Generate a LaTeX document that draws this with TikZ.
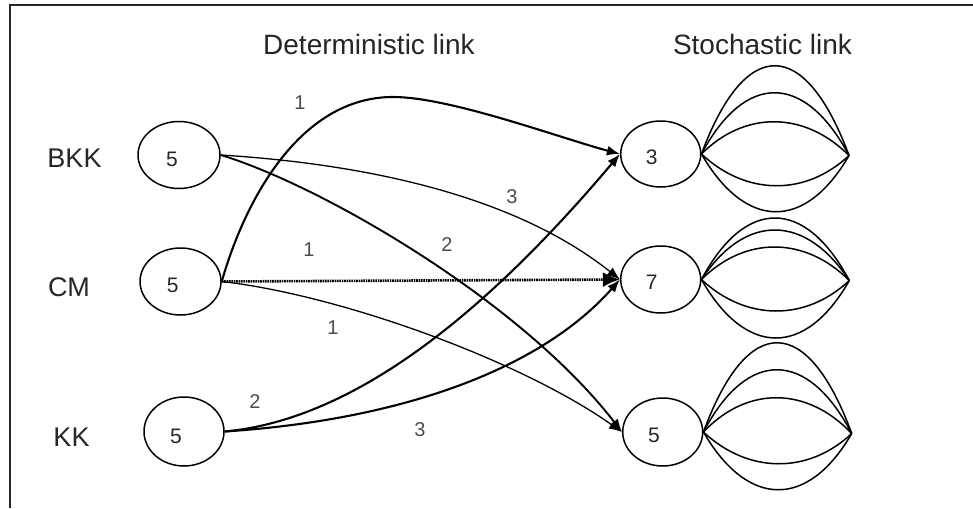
\documentclass[tikz,border=0pt]{standalone}
\usepackage{fontspec}
\setmainfont{Liberation Sans}
\usetikzlibrary{arrows.meta,shapes.geometric}
\begin{document}
\begin{tikzpicture}[x=1pt,y=-1pt,
  oval/.style={draw, ellipse, line width=1.5pt, inner sep=0pt, minimum width=81pt, minimum height=67pt},
  num/.style={font=\fontsize{21}{21}\selectfont, text=black!85, inner sep=0pt},
  rowlab/.style={font=\fontsize{27}{27}\selectfont, text=black!85, inner sep=0pt},
  head/.style={font=\fontsize{28}{28}\selectfont, text=black!85, inner sep=0pt},
  elab/.style={font=\fontsize{20}{20}\selectfont, text=black!70, inner sep=0pt},
  boldlink/.style={line width=2.1pt, -{Latex[length=13pt,width=10pt]}},
  thinlink/.style={line width=1.3pt, -{Latex[length=13pt,width=10pt]}},
  dotlink/.style={line width=2.6pt, dash pattern=on 1.6pt off 0.8pt, -{Latex[length=17pt,width=15pt]}},
  lens/.style={line width=1.5pt},
  frameline/.style={line width=2pt, black!85}
]
\useasboundingbox (0,0) rectangle (973,508);
\fill[white] (0,0) rectangle (973,508);

% frame
\draw[frameline] (9.7,508) -- (9.7,5.3) -- (973,5.3);

% headers
\node[head] (hdet) at (369,44) {Deterministic link};
\node[head] (hsto) at (762.5,44) {Stochastic link};

% row labels
\node[rowlab] (lbkk) at (74.5,158) {BKK};
\node[rowlab] (lcm) at (69,287) {CM};
\node[rowlab] (lkk) at (71.5,437) {KK};

% origin nodes
\node[oval, minimum width=82pt] (bkk) at (179,155) {};
\node[oval] (cm) at (180.5,281.5) {};
\node[oval, minimum width=80pt, minimum height=69pt] (kk) at (184,431.5) {};
\node[num] (nbkk) at (172,159) {5};
\node[num] (ncm) at (172.7,285) {5};
\node[num] (nkk) at (176,436) {5};

% destination nodes
\node[oval, minimum width=80pt, minimum height=66pt] (d3) at (660.7,154) {};
\node[oval, minimum width=80pt] (d7) at (660.7,279.5) {};
\node[oval, minimum width=80pt, minimum height=68pt] (d5) at (662.7,432) {};
\node[num] (nd3) at (651.7,157) {3};
\node[num] (nd7) at (651.7,282.7) {7};
\node[num] (nd5) at (654,435.7) {5};

% stochastic lens tips
\coordinate (t3) at (849,155.5);
\coordinate (t7) at (849.3,280.5);
\coordinate (t5) at (851.7,433.5);

\foreach \h in {-89,-62,-33,31,57}
  \draw[lens] (d3.east) .. controls +(44,4*\h/3) and +(-44,4*\h/3) .. (t3);
\foreach \h in {-62,-50,-33,31,58}
  \draw[lens] (d7.east) .. controls +(44,4*\h/3) and +(-44,4*\h/3) .. (t7);
\foreach \h in {-90,-63,-35,31,57}
  \draw[lens] (d5.east) .. controls +(44,4*\h/3) and +(-44,4*\h/3) .. (t5);

% deterministic links
\draw[boldlink] (cm.east) .. controls (245,200) and (300,97) .. (393,97)
  .. controls (450,97) and (560,138) .. (d3.west);
\draw[thinlink] (bkk.east) .. controls (380,165) and (520,200) .. (d7.west);
\draw[boldlink, line width=1.9pt] (bkk.east) .. controls (320,185) and (520,300) .. (d5.west);
\draw[dotlink] (cm.east) -- (d7.west);
\draw[thinlink] (cm.east) .. controls (340,295) and (520,360) .. (d5.west);
\draw[boldlink] (kk.east) .. controls (350,420) and (480,320) .. (d3.west);
\draw[boldlink] (kk.east) .. controls (400,420) and (540,370) .. (d7.west);

% link labels
\node[elab] (e1) at (300,103) {1};
\node[elab] (e2) at (512,197) {3};
\node[elab] (e3) at (447,245) {2};
\node[elab] (e4) at (309,250) {1};
\node[elab] (e5) at (333,328) {1};
\node[elab] (e6) at (255,402) {2};
\node[elab] (e7) at (420,430) {3};
\end{tikzpicture}
\end{document}
